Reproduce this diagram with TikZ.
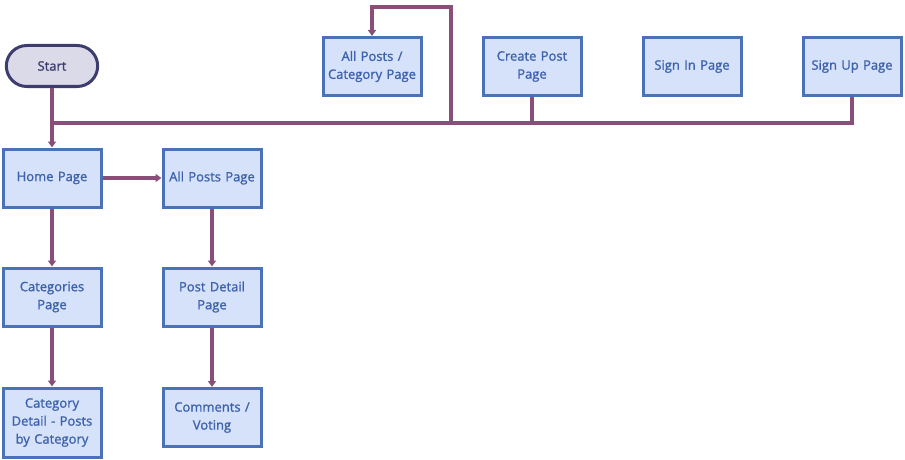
\documentclass[tikz,border=0pt]{standalone}
\usepackage{fontspec}
\setmainfont{Open Sans}
\newfontfamily\medfont{Open Sans}[FakeBold=1.2]
\usetikzlibrary{arrows.meta,shapes.misc}
\definecolor{boxfill}{HTML}{D6E1FA}
\definecolor{boxline}{HTML}{4A72B8}
\definecolor{boxtext}{HTML}{3D62AC}
\definecolor{startfill}{HTML}{DADAE8}
\definecolor{startline}{HTML}{3C3D6E}
\definecolor{conn}{HTML}{8A4F78}
\begin{document}
\begin{tikzpicture}[x=1pt,y=-1pt,
  page/.style={draw=boxline,fill=boxfill,line width=3pt,minimum width=97pt,minimum height=58pt,
    text=boxtext,align=center,font=\medfont\fontsize{13}{18}\selectfont,inner sep=1pt,text width=96pt},
  startnode/.style={draw=startline,fill=startfill,line width=3pt,rounded rectangle,minimum width=98pt,
    minimum height=41pt,text=startline,font=\medfont\fontsize{13}{18}\selectfont},
  link/.style={draw=conn,line width=3.2pt},
  arr/.style={link,-{Triangle[length=6pt,width=8pt]}}]
\useasboundingbox (0,0) rectangle (905,460);
\node[startnode] (start) at (52,66) {Start};
\node[page] (allcat) at (372,66.5) {All Posts /\\Category Page};
\node[page] (create) at (532,66.5) {Create Post\\Page};
\node[page] (signin) at (692,66.5) {Sign In Page};
\node[page] (signup) at (852,66.5) {Sign Up Page};
\node[page] (home) at (52,178) {Home Page};
\node[page] (allposts) at (212,178) {All Posts Page};
\node[page] (cats) at (52,297) {Categories\\Page};
\node[page] (detail) at (212,297) {Post Detail\\Page};
\node[page,minimum height=69pt] (catdetail) at (52,422.5) {Category\\Detail - Posts\\by Category};
\node[page] (comments) at (212,417.5) {Comments /\\Voting};
\coordinate (bus) at (52,123);
\coordinate (branch) at (451,123);
\draw[link] (signup.south) |- (bus);
\draw[link] (create.south) -- (create.south |- bus);
\draw[arr] (start.south) -- (home.north);
\draw[arr] (branch) -- (451,7) -| (allcat.north);
\draw[arr] (home.east) -- (allposts.west);
\draw[arr] (home.south) -- (cats.north);
\draw[arr] (cats.south) -- (catdetail.north);
\draw[arr] (allposts.south) -- (detail.north);
\draw[arr] (detail.south) -- (comments.north);
\end{tikzpicture}
\end{document}
